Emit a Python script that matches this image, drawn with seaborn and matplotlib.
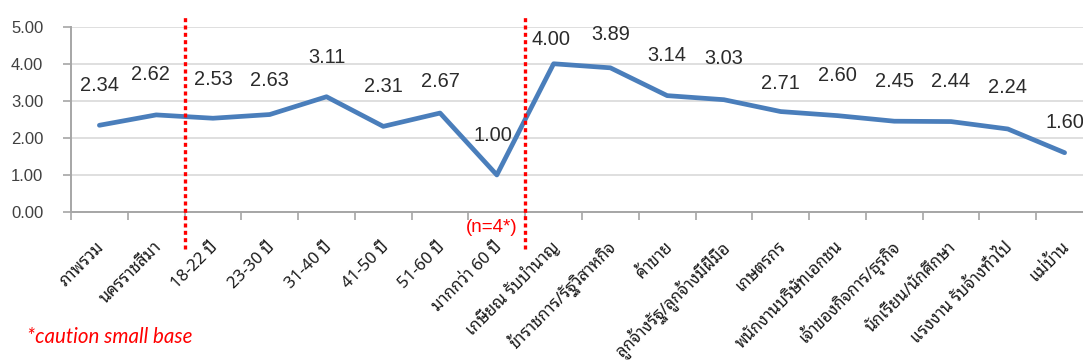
import numpy as np
import pandas as pd
import seaborn as sns
import matplotlib
matplotlib.use("Agg")
import matplotlib.pyplot as plt
import matplotlib.transforms as mtransforms
from matplotlib import font_manager
from matplotlib.ft2font import FT2Font

# ---- data -------------------------------------------------------------
categories = [
    "ภาพรวม", "นครราชสีมา", "18-22 ปี", "23-30 ปี", "31-40 ปี", "41-50 ปี",
    "51-60 ปี", "มากกว่า 60 ปี", "เกษียณ รับบำนาญ", "ข้าราชการ/รัฐวิสาหกิจ",
    "ค้าขาย", "ลูกจ้างรัฐ/ลูกจ้างมีฝีมือ", "เกษตรกร", "พนักงานบริษัทเอกชน",
    "เจ้าของกิจการ/ธุรกิจ", "นักเรียน/นักศึกษา", "แรงงาน รับจ้างทั่วไป", "แม่บ้าน",
]
scores = [2.34, 2.62, 2.53, 2.63, 3.11, 2.31, 2.67, 1.00, 4.00,
          3.89, 3.14, 3.03, 2.71, 2.60, 2.45, 2.44, 2.24, 1.60]
y_ticks = [0, 1, 2, 3, 4, 5]
group_breaks = [1.5, 7.5]          # dividers between the three groups
small_base_note = "(n=4*)"
small_base_index = 7
footnote = "*caution small base"

# label placement above each point (pixels)
label_dy = [40, 40, 39, 34, 39, 40, 32, 39, 24, 33, 40, 41, 28, 40, 40, 40, 41, 30]
label_dx = [0, -6, 0, 0, 0, 0, 0, -4, -3, 0, 0, 0, 0, 0, 0, 0, 0, 0]


def _has_thai(path):
    try:
        return 0x0E01 in FT2Font(path).get_charmap()
    except Exception:
        return False


def pick_thai_family():
    found = []
    for fe in font_manager.fontManager.ttflist:
        if fe.name not in found and _has_thai(fe.fname):
            found.append(fe.name)
    preferred = ["Tahoma", "Leelawadee UI", "Noto Sans Thai Looped", "Loma",
                 "Garuda", "Waree", "Umpush", "Kinnari", "Norasi",
                 "Noto Serif Thai", "Sarabun", "Noto Sans Thai", "Noto Sans Thai UI"]
    for name in preferred:
        if name in found:
            return name
    return found[0] if found else "DejaVu Sans"


thai_family = pick_thai_family()

sns.set_theme(style="white")
plt.rcParams["font.family"] = ["Liberation Sans", "DejaVu Sans"]

W, H, DPI = 1083, 363, 100
fig = plt.figure(figsize=(W / DPI, H / DPI), dpi=DPI)
# plot area in pixels: x from 71 to 1093, y from 26.7 (top) to 212 (bottom)
ax = fig.add_axes([71 / W, 1 - 212 / H, (1093 - 71) / W, (212 - 26.7) / H])

df = pd.DataFrame({"group": categories, "score": scores})
sns.lineplot(data=df, x="group", y="score", sort=False, ax=ax,
             color="#4a7ebb", linewidth=3.4, solid_joinstyle="round",
             solid_capstyle="round")

ax.set_xlim(-0.5, len(categories) - 0.5)
ax.set_ylim(0, 5)
ax.set_xlabel("")
ax.set_ylabel("")

# y axis
ax.set_yticks(y_ticks)
ax.set_yticklabels([f"{v:.2f}" for v in y_ticks], fontsize=12, color="#404040")
ax.yaxis.grid(True, color="#d9d9d9", linewidth=1.2)
ax.set_axisbelow(True)
ax.tick_params(axis="y", length=6, width=1.2, color="#a6a6a6", pad=14, left=True)

# x axis: ticks on category boundaries, labels at centres
ax.set_xticks(range(len(categories)))
ax.set_xticklabels(categories, family=[thai_family, "DejaVu Sans"], fontsize=12,
                   rotation=45, ha="right", va="center", rotation_mode="anchor",
                   color="#1a1a1a")
ax.set_xticks(np.arange(-0.5, len(categories)), minor=True)
ax.tick_params(axis="x", which="major", length=0, pad=23.5)
ax.tick_params(axis="x", which="minor", length=6, width=1.2, color="#a6a6a6",
               bottom=True)
shift = mtransforms.ScaledTranslation(3 / DPI, 0, fig.dpi_scale_trans)
for lbl in ax.get_xticklabels():
    lbl.set_transform(lbl.get_transform() + shift)

for side in ("top", "right"):
    ax.spines[side].set_visible(False)
ax.spines["left"].set_color("#a6a6a6")
ax.spines["bottom"].set_color("#a6a6a6")
ax.spines["left"].set_linewidth(1.4)
ax.spines["bottom"].set_linewidth(1.4)

# value labels
for i, v in enumerate(scores):
    ax.annotate(f"{v:.2f}", xy=(i, v), xytext=(label_dx[i], label_dy[i]),
                textcoords="offset pixels", ha="center", va="center",
                fontsize=14.4, color="#2b2b2b")

# red dotted group dividers
for xb in group_breaks:
    ax.axvline(xb, ymin=-0.2, ymax=1.063, color="#ff0000", linewidth=2.4,
               linestyle=(0, (1.2, 1.0)), clip_on=False, zorder=5)

# small base note under the category
ax.annotate(small_base_note, xy=(small_base_index, 0), xytext=(-5, -15),
            textcoords="offset pixels", ha="center", va="center",
            fontsize=13.5, color="#ff0000", annotation_clip=False)

fig.text(27 / W, 1 - 337 / H, footnote, color="#ff0000", fontsize=14.8,
         style="italic", ha="left", va="center", family=["Lato", "DejaVu Sans"])

fig.savefig("out.png", dpi=DPI)
